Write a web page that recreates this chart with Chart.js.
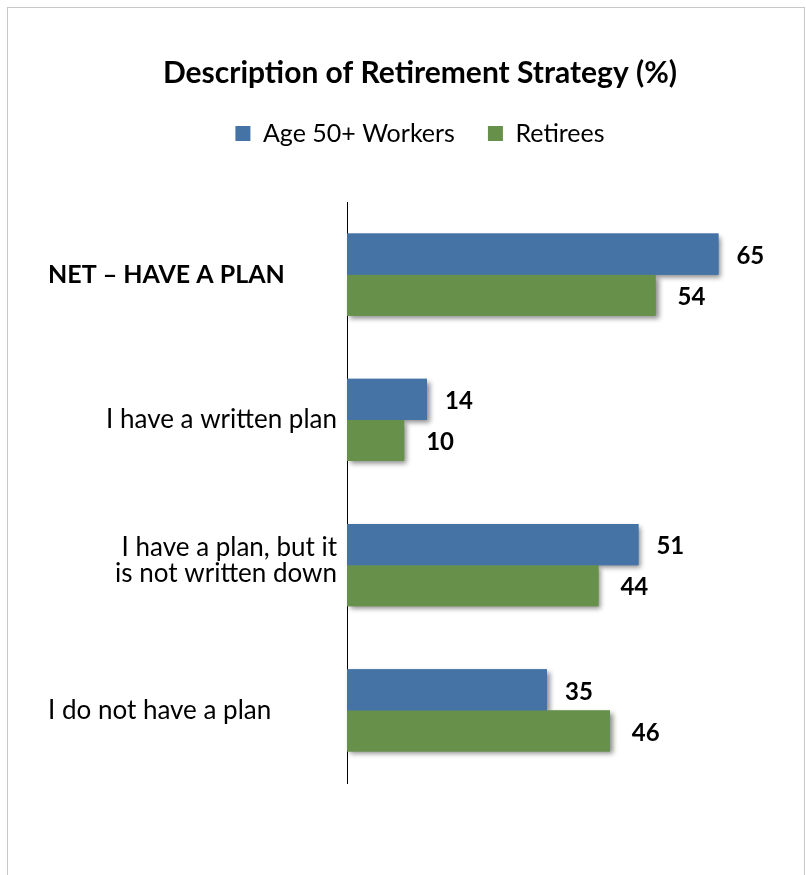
<!DOCTYPE html>
<html>
<head>
<meta charset="utf-8">
<script src="https://cdn.jsdelivr.net/npm/chart.js@4"></script>
<style>
  html, body { margin: 0; padding: 0; background: #fff; overflow: hidden; }
  #wrap { position: relative; width: 806px; height: 875px; }
  #frame { position: absolute; left: 7px; top: 7px; width: 798px; height: 900px; border: 1px solid #c8c8c8; box-sizing: border-box; pointer-events: none; }
</style>
</head>
<body>
<div id="wrap">
  <canvas id="chart" width="806" height="875"></canvas>
  <div id="frame"></div>
</div>
<script>
// categories, top to bottom
const categories = [
    'NET \u2013 HAVE A PLAN',
    'I have a written plan',
    ['I have a plan, but it', 'is not written down'],
    'I do not have a plan'
];
const workers = [65, 14, 51, 35];   // Age 50+ Workers
const retirees = [54, 10, 44, 46];  // Retirees
const seriesNames = ['Age 50+ Workers', 'Retirees'];
const xTicks = [0, 70];

const FONT = 'Lato';

// how each category label sits in the label column
const labelStyle = [
    { bold: true, align: 'left' },
    { bold: false, align: 'right' },
    { bold: false, align: 'right' },
    { bold: false, align: 'left' }
];

// bars drop a soft shadow like the office chart
const barShadow = {
    id: 'barShadow',
    afterInit(chart) {
        // leave room between legend and plot area
        const fit = chart.legend.fit;
        chart.legend.fit = function () {
            fit.call(this);
            this.height = 114;
        };
    },
    beforeDatasetsDraw(chart) {
        const ctx = chart.ctx;
        ctx.save();
        ctx.shadowColor = 'rgba(0,0,0,0.45)';
        ctx.shadowBlur = 5;
        ctx.shadowOffsetX = 3;
        ctx.shadowOffsetY = 3;
        chart.data.datasets.forEach((ds, i) => {
            chart.getDatasetMeta(i).data.forEach(bar => {
                const h = bar.height;
                ctx.fillStyle = ds.backgroundColor;
                ctx.fillRect(bar.base, bar.y - h / 2, bar.x - bar.base, h);
            });
        });
        ctx.restore();
    }
};

// values at the end of each bar + category labels on the left
const labels = {
    id: 'labels',
    afterDatasetsDraw(chart) {
        const ctx = chart.ctx;
        ctx.save();
        ctx.fillStyle = '#000';
        ctx.textBaseline = 'middle';
        ctx.font = `bold 24px ${FONT}`;
        ctx.textAlign = 'left';
        chart.data.datasets.forEach((ds, i) => {
            chart.getDatasetMeta(i).data.forEach((bar, j) => {
                ctx.fillText(ds.data[j], bar.x + (i === 0 ? 18 : 22), bar.y + 2);
            });
        });

        const y = chart.scales.y;
        categories.forEach((cat, i) => {
            const lines = Array.isArray(cat) ? cat : [cat];
            const st = labelStyle[i];
            ctx.font = st.bold ? `bold 25px ${FONT}` : `26px ${FONT}`;
            ctx.textAlign = st.align;
            const x = st.align === 'left' ? 48 : 337;
            const cy = y.getPixelForValue(i) - (lines.length > 1 ? 5 : 0);
            const lh = 26;
            lines.forEach((ln, k) => {
                ctx.fillText(ln, x, cy + (k - (lines.length - 1) / 2) * lh);
            });
        });
        ctx.restore();
    }
};

new Chart(document.getElementById('chart'), {
    type: 'bar',
    data: {
        labels: categories,
        datasets: [
            { label: seriesNames[0], data: workers, backgroundColor: '#4573a6' },
            { label: seriesNames[1], data: retirees, backgroundColor: '#67914a' }
        ]
    },
    options: {
        indexAxis: 'y',
        responsive: false,
        animation: false,
        events: [],
        datasets: {
            bar: { barPercentage: 1.0, categoryPercentage: 0.565 }
        },
        layout: { padding: { left: 93, right: 59, top: 0, bottom: 92 } },
        scales: {
            x: {
                display: false,
                min: xTicks[0],
                max: xTicks[1]
            },
            y: {
                grid: { display: false, drawTicks: false },
                border: { display: true, color: '#000', width: 1 },
                ticks: { display: false },
                afterFit(scale) { scale.width = 254; }
            }
        },
        plugins: {
            title: {
                display: true,
                text: 'Description of Retirement Strategy (%)',
                color: '#000',
                font: { family: FONT, size: 30, weight: 'bold', lineHeight: 1.0 },
                padding: { top: 58, bottom: 0 }
            },
            legend: {
                display: true,
                labels: {
                    color: '#000',
                    font: { family: FONT, size: 25 },
                    boxWidth: 15,
                    boxHeight: 15,
                    padding: 33
                }
            },
            tooltip: { enabled: false }
        }
    },
    plugins: [barShadow, labels]
});
</script>
</body>
</html>
